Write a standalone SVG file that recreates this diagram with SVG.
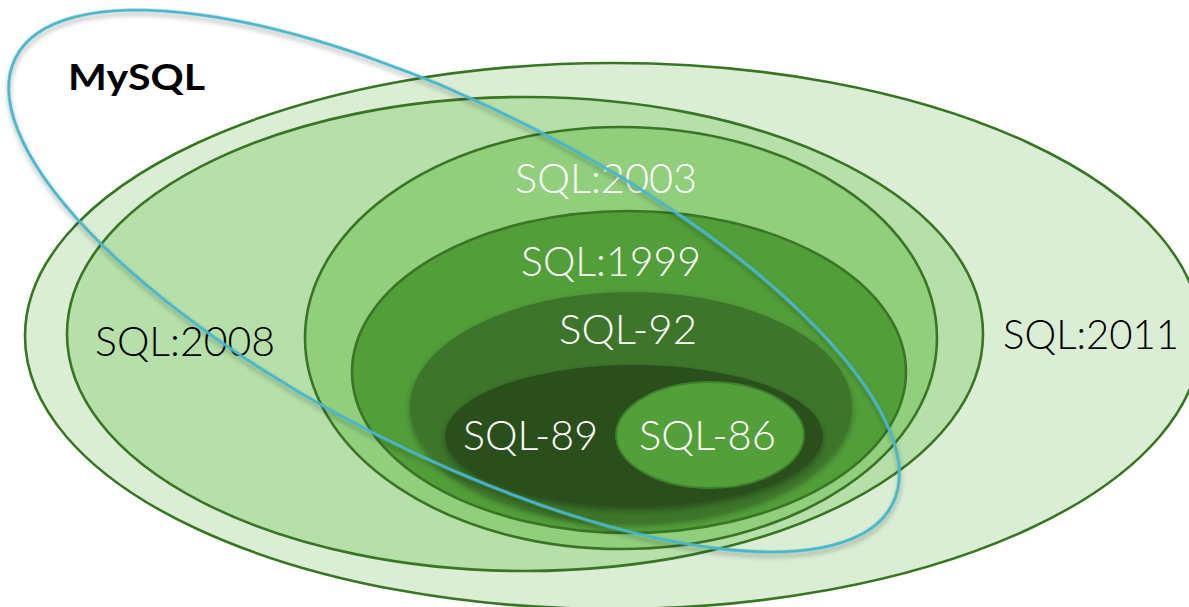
<svg xmlns="http://www.w3.org/2000/svg" width="1189" height="607" viewBox="0 0 1189 607">
  <defs>
    <style>
      .ring { stroke: #3a7526; stroke-width: 2.6; }
      .lbl { font-family: Lato, "Liberation Sans", "DejaVu Sans", sans-serif; font-weight: 300; font-size: 41px; }
      .w { fill: #ffffff; }
      .k { fill: #000000; }
      .mysql { font-family: Lato, "Liberation Sans", sans-serif; font-weight: 700; font-size: 37px; fill: #000000; }
    </style>
    <filter id="soft" x="-10%" y="-10%" width="120%" height="130%">
      <feDropShadow dx="0" dy="3" stdDeviation="3" flood-color="#000000" flood-opacity="0.35"/>
    </filter>
    <filter id="blueShadow" x="-10%" y="-10%" width="120%" height="130%">
      <feDropShadow dx="2" dy="3" stdDeviation="2.5" flood-color="#000000" flood-opacity="0.3"/>
    </filter>
  </defs>
  <rect width="1189" height="607" fill="#ffffff"/>

  <g id="sql2011">
    <ellipse class="ring" cx="613" cy="336" rx="588" ry="273" fill="#dbeed5"/>
    <text class="lbl k" x="1003" y="349" textLength="176" lengthAdjust="spacingAndGlyphs">SQL:2011</text>
  </g>
  <g id="sql2008">
    <ellipse class="ring" cx="525" cy="334" rx="458" ry="237" fill="#b6dfa9"/>
    <text class="lbl k" x="95" y="356" textLength="180" lengthAdjust="spacingAndGlyphs">SQL:2008</text>
  </g>
  <g id="sql2003">
    <ellipse class="ring" cx="621" cy="338" rx="316" ry="211" fill="#91cf7d"/>
    <text class="lbl w" x="515" y="193" textLength="182" lengthAdjust="spacingAndGlyphs">SQL:2003</text>
  </g>
  <g id="sql1999">
    <ellipse class="ring" cx="629" cy="372" rx="277" ry="161" fill="#529e39"/>
    <text class="lbl w" x="521" y="276" textLength="180" lengthAdjust="spacingAndGlyphs">SQL:1999</text>
  </g>
  <g id="sql92">
    <ellipse cx="631" cy="407" rx="221" ry="115" fill="#3e742a" filter="url(#soft)"/>
    <text class="lbl w" x="559" y="344" textLength="138" lengthAdjust="spacingAndGlyphs">SQL-92</text>
  </g>
  <g id="sql89">
    <ellipse cx="634" cy="436" rx="189" ry="71" fill="#2b4f1c" filter="url(#soft)"/>
    <text class="lbl w" x="463" y="450" textLength="135" lengthAdjust="spacingAndGlyphs">SQL-89</text>
  </g>
  <g id="sql86">
    <ellipse cx="710" cy="435" rx="94" ry="53" fill="#539f3a" stroke="#3f802b" stroke-width="2"/>
    <text class="lbl w" x="639" y="450" textLength="137" lengthAdjust="spacingAndGlyphs">SQL-86</text>
  </g>

  <g id="mysql">
    <ellipse cx="454" cy="281" rx="492" ry="172" transform="rotate(27 454 281)" fill="none" stroke="#4bb5c9" stroke-width="3" filter="url(#blueShadow)"/>
    <text class="mysql" x="68" y="90" textLength="137" lengthAdjust="spacingAndGlyphs">MySQL</text>
  </g>
</svg>
